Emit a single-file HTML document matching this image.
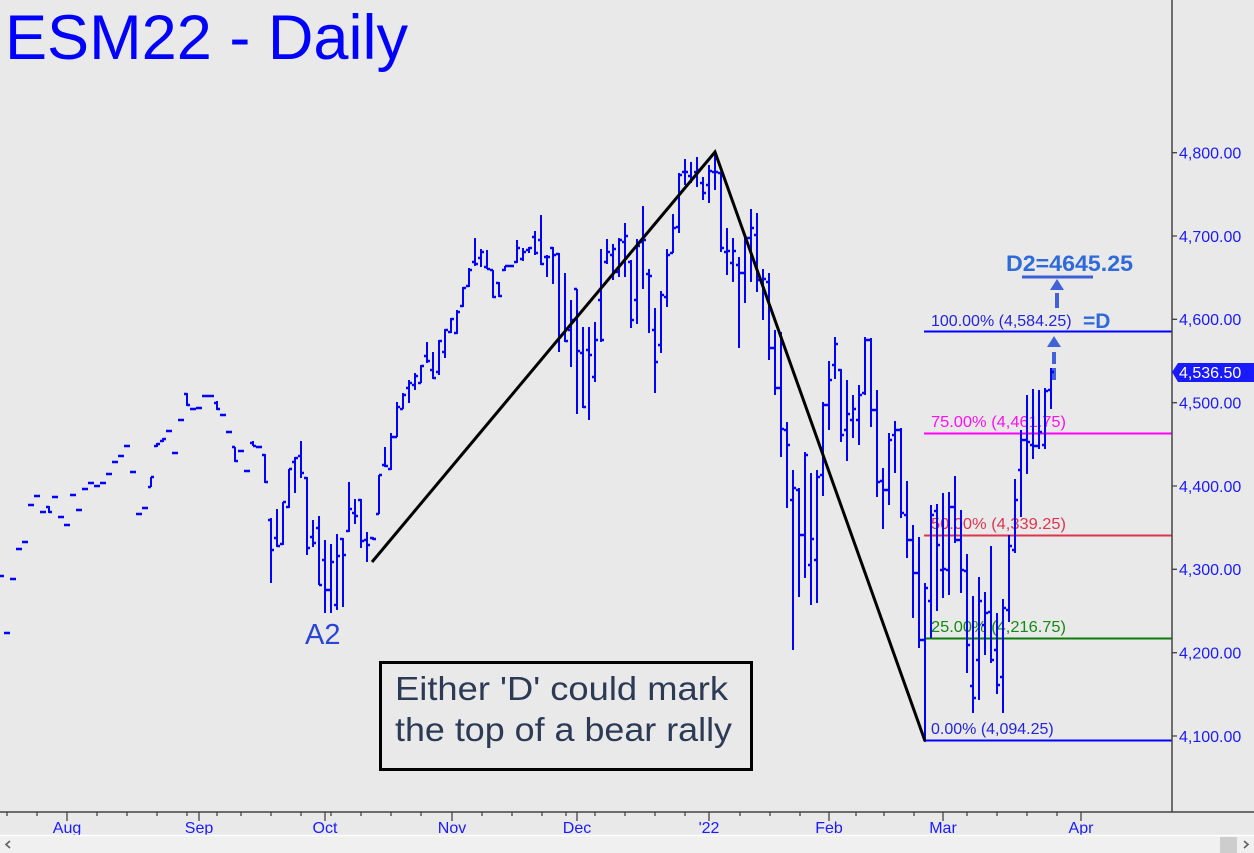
<!DOCTYPE html>
<html><head><meta charset="utf-8"><style>
html,body{margin:0;padding:0;background:#e9e9e9;}
svg{display:block;}
text{font-family:"Liberation Sans",Arial,sans-serif;}
</style></head><body>
<svg width="1254" height="853" viewBox="0 0 1254 853" xmlns="http://www.w3.org/2000/svg">
<rect x="0" y="0" width="1254" height="853" fill="#e9e9e9"/>
<!-- title -->
<text x="5" y="59" font-size="63" fill="#0000ff" textLength="403" lengthAdjust="spacingAndGlyphs">ESM22 - Daily</text>

<!-- fib lines -->
<g stroke-width="2">
<line x1="924" y1="331.5" x2="1172" y2="331.5" stroke="#0000ff"/>
<line x1="924" y1="433.5" x2="1172" y2="433.5" stroke="#ff00ff"/>
<line x1="924" y1="535.5" x2="1172" y2="535.5" stroke="#dc3550"/>
<line x1="924" y1="638.5" x2="1172" y2="638.5" stroke="#0a7a0a"/>
<line x1="924" y1="740.5" x2="1172" y2="740.5" stroke="#0000ff"/>
</g>
<g font-size="16">
<text x="931" y="326" fill="#2424d8">100.00% (4,584.25)</text>
<text x="931" y="427" fill="#ff10f0" textLength="135" lengthAdjust="spacingAndGlyphs">75.00% (4,461.75)</text>
<text x="931" y="529" fill="#dc3550" textLength="135" lengthAdjust="spacingAndGlyphs">50.00% (4,339.25)</text>
<text x="931" y="632" fill="#138a13" textLength="135" lengthAdjust="spacingAndGlyphs">25.00% (4,216.75)</text>
<text x="931" y="734" fill="#2424d8">0.00% (4,094.25)</text>
</g>
<text x="1083" y="328" font-size="21" font-weight="bold" fill="#2f6ad9">=D</text>
<text x="1006" y="271" font-size="22.5" font-weight="bold" fill="#2f6ad9" textLength="127" lengthAdjust="spacingAndGlyphs">D2=4645.25</text>
<line x1="1022" y1="277" x2="1093" y2="277" stroke="#3d5fd6" stroke-width="3"/>
<polygon points="1057,279 1050,290 1064,290" fill="#4263d8"/>
<line x1="1057" y1="293" x2="1057" y2="308" stroke="#4263d8" stroke-width="4"/>
<polygon points="1054,336 1047,347 1061,347" fill="#4263d8"/>
<line x1="1054" y1="352" x2="1054" y2="380" stroke="#4263d8" stroke-width="4" stroke-dasharray="12 4"/>

<!-- bars -->
<path fill="none" stroke="#0000ff" stroke-width="2" d="M49 506V513M151 477V487M157 443V447M163 438V442M187 393V406M217 401V410M235 447V462M253 441V446M265 454V483M271 518V583M277 509V547M283 502V545M289 469V508M295 457V493M301 441V478M307 477V555M313 520V547M319 516V585M325 540V613M331 544V613M337 534V610M343 538V607M349 482V532M355 499V524M361 499V548M367 532V562M373 537V540M379 475V514M385 447V467M391 433V470M397 402V437M403 393V409M409 380V403M415 373V390M421 365V383M427 342V363M433 352V379M439 340V375M445 329V358M451 318V333M457 310V334M463 287V307M469 268V287M475 238V266M481 249V267M487 250V269M493 270V298M499 282V297M505 266V271M511 265V267M517 240V263M523 248V261M529 247V253M535 231V255M541 215V265M547 255V277M553 247V284M559 253V352M565 273V342M571 300V367M577 289V414M583 327V408M589 327V420M595 322V382M601 249V342M607 239V264M613 244V280M619 238V277M625 223V277M631 260V328M637 239V324M643 206V289M649 269V333M655 308V393M661 291V353M667 249V307M673 214V253M679 173V233M685 159V185M691 162V183M697 157V187M703 177V200M709 165V203M715 154V190M721 172V252M727 228V275M733 238V282M739 257V348M745 237V303M751 209V282M757 213V292M763 269V320M769 273V360M775 330V395M781 332V457M787 422V508M793 470V650M799 488V597M805 452V578M811 473V605M817 470V603M823 402V496M829 361V430M835 337V379M841 369V442M847 380V461M853 395V438M859 385V445M865 337V395M871 338V427M877 390V497M883 468V529M889 433V505M895 421V473M901 428V518M907 481V558M913 525V618M919 537V648M925 583V742M931 505V638M937 504V611M943 493V598M949 492V595M955 476V543M961 510V593M967 554V673M973 596V713M979 577V700M985 592V655M991 546V663M997 613V694M1003 599V713M1009 535V622M1015 479V553M1021 430V517M1027 395V474M1033 389V459M1039 390V449M1045 388V449M1051 368V409"/>
<path fill="none" stroke="#0000ff" stroke-width="2.6" d="M-2 576h6M4 633h6M10 579h6M16 549h6M22 542h6M28 505h6M34 496h6M40 512h6M46 507h3M49 512h3M52 497h6M58 517h6M64 525h6M70 495h6M76 510h6M82 489h6M88 483h6M94 486h6M100 483h6M106 474h6M112 462h6M118 456h6M124 446h6M130 472h6M136 514h6M142 508h6M148 487h3M151 477h3M154 446h3M157 444h3M160 441h3M163 439h3M166 431h6M172 453h6M178 420h6M184 394h3M187 405h3M190 409h6M196 408h6M202 396h6M208 396h6M214 403h3M217 409h3M220 415h6M226 432h6M232 447h3M235 461h3M238 451h6M244 471h6M250 443h3M253 446h3M256 447h6M262 455h3M265 482h3
M268 520h3M271 550h3M274 538h3M277 546h3M280 544h3M283 502h3M286 507h3M289 469h3M292 462h3M295 458h3M298 456h3M301 473h3M304 478h3M307 548h3M310 537h3M313 543h3M316 528h3M319 585h3M322 560h3M325 590h3M328 590h3M331 562h3M334 605h3M337 556h3M340 539h3M343 555h3M346 531h3M349 509h3M352 513h3M355 516h3M358 500h3M361 541h3M364 540h3M367 545h3M370 538h3M373 539h3M376 514h3M379 475h3M382 465h3M385 466h3M388 469h3M391 437h3M394 437h3M397 407h3M400 409h3M403 395h3M406 388h3M409 383h3M412 385h3M415 376h3M418 383h3M421 366h3M424 356h3M427 361h3M430 370h3M433 378h3M436 372h3M439 341h3M442 352h3M445 330h3M448 332h3M451 319h3M454 333h3M457 312h3M460 306h3M463 288h3M466 286h3M469 270h3M472 262h3M475 264h3M478 258h3M481 252h3M484 267h3M487 269h3M490 270h3M493 297h3M496 283h3M499 296h3M502 270h3M505 266h3M508 266h3M511 266h3M514 262h3M517 248h3M520 259h3M523 252h3M526 250h3M529 248h3M532 237h3M535 253h3M538 240h3M541 264h3M544 257h3M547 257h3M550 248h3M553 255h3M556 254h3M559 336h3M562 334h3M565 341h3M568 330h3M571 320h3M574 289h3M577 351h3M580 353h3M583 407h3M586 350h3M589 355h3M592 377h3M595 340h3M598 300h3M601 340h3M604 262h3M607 252h3M610 255h3M613 249h3M616 272h3M619 240h3M622 242h3M625 236h3M628 262h3M631 320h3M634 300h3M637 246h3M640 242h3M643 240h3M646 274h3M649 276h3M652 330h3M655 362h3M658 345h3M661 295h3M664 297h3M667 255h3M670 253h3M673 228h3M676 227h3M679 175h3M682 172h3M685 172h3M688 176h3M691 178h3M694 172h3M697 170h3M700 183h3M703 193h3M706 185h3M709 171h3M712 172h3M715 172h3M718 173h3M721 248h3M724 252h3M727 251h3M730 263h3M733 251h3M736 265h3M739 273h3M742 273h3M745 238h3M748 238h3M751 228h3M754 235h3M757 280h3M760 280h3M763 279h3M766 282h3M769 348h3M772 348h3M775 388h3M778 388h3M781 429h3M784 430h3M787 445h3M790 500h3M793 488h3M796 490h3M799 535h3M802 535h3M805 455h3M808 565h3M811 539h3M814 560h3M817 477h3M820 475h3M823 405h3M826 405h3M829 380h3M832 365h3M835 344h3M838 370h3M841 435h3M844 430h3M847 414h3M850 420h3M853 409h3M856 420h3M859 395h3M862 393h3M865 340h3M868 340h3M871 410h3M874 410h3M877 482h3M880 481h3M883 490h3M886 490h3M889 440h3M892 435h3M895 430h3M898 430h3M901 513h3M904 515h3M907 540h3M910 540h3M913 573h3M916 573h3M919 640h3M922 640h3M925 588h3M928 601h3M931 515h3M934 511h3M937 545h3M940 570h3M943 569h3M946 570h3M949 507h3M952 507h3M955 540h3M958 540h3M961 570h3M964 571h3M967 645h3M970 686h3M973 698h3M976 660h3M979 601h3M982 625h3M985 613h3M988 612h3M991 660h3M994 650h3M997 685h3M1000 677h3M1003 608h3M1006 610h3M1009 546h3M1012 550h3M1015 500h3M1018 470h3M1021 440h3M1024 440h3M1027 442h3M1030 445h3M1033 446h3M1036 446h3M1039 432h3M1042 445h3M1045 391h3M1048 390h3M1051 372h3"/>

<!-- black trend lines -->
<polyline points="372,562 715,152 925,741" fill="none" stroke="#000" stroke-width="3" stroke-linejoin="miter"/>

<!-- A2 -->
<text x="305" y="644" font-size="29" fill="#2b44d4">A2</text>

<!-- text box -->
<rect x="380.5" y="662.5" width="371" height="107" fill="none" stroke="#000" stroke-width="3"/>
<text x="395" y="700" font-size="33" fill="#2c3a55" textLength="333" lengthAdjust="spacingAndGlyphs">Either 'D' could mark</text>
<text x="395" y="741" font-size="33" fill="#2c3a55" textLength="337" lengthAdjust="spacingAndGlyphs">the top of a bear rally</text>

<!-- axes -->
<line x1="1172" y1="0" x2="1172" y2="812" stroke="#444" stroke-width="1.5"/>
<line x1="0" y1="812" x2="1254" y2="812" stroke="#444" stroke-width="1.5"/>
<g stroke="#444" stroke-width="1.3">
<path d="M1172 152.7h5M1172 236h5M1172 319.3h5M1172 402.7h5M1172 486h5M1172 569.3h5M1172 652.7h5M1172 736h5"/>
<path d="M67 812v9M199 812v9M325 812v9M452 812v9M577 812v9M709 812v9M829 812v9M943 812v9M1081 812v9"/>
<path d="M7 812v4M37 812v4M97 812v4M127 812v4M157 812v4M187 812v4M217 812v4M241 812v4M271 812v4M301 812v4M331 812v4M361 812v4M391 812v4M421 812v4M482 812v4M512 812v4M542 812v4M566 812v4M595 812v4M625 812v4M655 812v4M685 812v4M740 812v4M770 812v4M800 812v4M856 812v4M884 812v4M914 812v4M967 812v4M997 812v4M1027 812v4M1057 812v4"/>
</g>
<g font-size="16" fill="#1a1aff">
<text x="1179" y="158.5">4,800.00</text>
<text x="1179" y="241.8">4,700.00</text>
<text x="1179" y="325.1">4,600.00</text>
<text x="1179" y="408.5">4,500.00</text>
<text x="1179" y="491.8">4,400.00</text>
<text x="1179" y="575.1">4,300.00</text>
<text x="1179" y="658.5">4,200.00</text>
<text x="1179" y="741.8">4,100.00</text>
</g>
<polygon points="1172,372 1178,363 1254,363 1254,382 1178,382" fill="#1a1aff"/>
<text x="1179" y="378" font-size="16" fill="#ffffff">4,536.50</text>

<g font-size="16" fill="#1a1aff" text-anchor="middle">
<text x="67" y="833">Aug</text>
<text x="199" y="833">Sep</text>
<text x="325" y="833">Oct</text>
<text x="452" y="833">Nov</text>
<text x="577" y="833">Dec</text>
<text x="709" y="833">'22</text>
<text x="829" y="833">Feb</text>
<text x="943" y="833">Mar</text>
<text x="1081" y="833">Apr</text>
</g>

<!-- scrollbar -->
<rect x="0" y="835" width="1254" height="18" fill="#f0f0f0"/>
<line x1="0" y1="835.5" x2="1254" y2="835.5" stroke="#ffffff" stroke-width="1.5"/>
<rect x="1220" y="837" width="17" height="16" fill="#cdcdcd"/>
<path d="M10 841l-4 3.5 4 3.5" fill="none" stroke="#606060" stroke-width="1.6"/>
<path d="M1244 841l4 3.5-4 3.5" fill="none" stroke="#606060" stroke-width="1.6"/>
</svg>
</body></html>
